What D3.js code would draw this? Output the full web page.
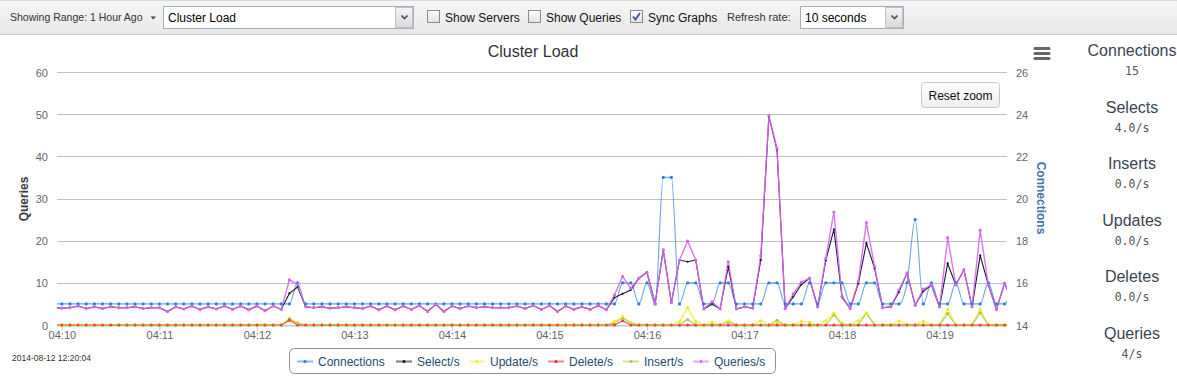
<!DOCTYPE html>
<html>
<head>
<meta charset="utf-8">
<script src="https://cdn.jsdelivr.net/npm/d3@7"></script>
<style>
  body { margin: 0; background: #fff; }
  svg { display: block; font-family: "Liberation Sans", Arial, Helvetica, sans-serif; }
</style>
</head>
<body>
<svg id="chart" width="1177" height="377"></svg>
<script>
// samples every 5 seconds, first one at 04:09:55
const startTime = Date.UTC(2014, 7, 12, 4, 9, 55)
const stepMs = 5000

const connections = [
  15, 15, 15, 15, 15, 15, 15, 15, 15, 15,
  15, 15, 15, 15, 15, 15, 15, 15, 15, 15,
  15, 15, 15, 15, 15, 15, 15, 15, 15, 15,
  16, 15, 15, 15, 15, 15, 15, 15, 15, 15,
  15, 15, 15, 15, 15, 15, 15, 15, 15, 15,
  15, 15, 15, 15, 15, 15, 15, 15, 15, 15,
  15, 15, 15, 15, 15, 15, 15, 15, 15, 15,
  16, 16, 15, 16, 15, 21, 21, 15, 16, 16,
  15, 15, 16, 16, 15, 15, 15, 15, 16, 16,
  15, 15, 15, 16, 15, 16, 16, 16, 15, 15,
  16, 16, 15, 15, 15, 16, 19, 15, 16, 15,
  15, 16, 15, 15, 15, 16, 15, 15, 16
]

const selects = [
  4.1, 4.0, 4.1, 4.5, 3.9, 4.3, 3.9, 4.3, 4.1, 4.1,
  4.3, 3.9, 4.1, 4.1, 3.2, 4.3, 3.8, 4.5, 3.7, 4.3,
  3.8, 4.5, 3.7, 4.5, 3.6, 4.5, 3.4, 4.5, 3.7, 7.5,
  9.0, 4.3, 4.1, 4.3, 4.0, 4.1, 4.3, 4.1, 3.9, 4.5,
  3.6, 4.5, 3.6, 4.5, 3.7, 4.6, 3.2, 4.9, 3.2, 4.5,
  3.9, 4.5, 4.1, 4.3, 4.1, 4.1, 4.1, 4.5, 3.9, 4.6,
  3.7, 4.6, 3.2, 4.5, 3.7, 4.3, 3.7, 4.6, 3.6, 6.5,
  7.4, 8.3, 11.1, 12.5, 5.1, 17.8, 5.3, 15.4, 15.0, 15.4,
  3.8, 5.0, 3.8, 13.8, 3.8, 4.3, 4.0, 15.4, 49.4, 41.6,
  3.9, 6.7, 9.6, 11.1, 4.3, 15.3, 22.7, 6.6, 3.9, 9.8,
  19.4, 13.5, 4.1, 4.3, 7.8, 12.3, 4.7, 8.0, 9.5, 4.3,
  14.6, 9.5, 13.1, 4.3, 16.5, 9.5, 3.7, 9.9, 5.5
]

const updates = [
  0, 0, 0, 0, 0, 0, 0, 0, 0, 0,
  0, 0, 0, 0, 0, 0, 0, 0, 0, 0,
  0, 0, 0, 0, 0, 0, 0, 0, 0, 1.0,
  0.3, 0, 0, 0, 0, 0, 0, 0, 0, 0,
  0, 0, 0, 0, 0, 0, 0, 0, 0, 0,
  0, 0, 0, 0, 0, 0, 0, 0, 0, 0,
  0, 0, 0, 0, 0, 0, 0, 0, 0, 0.8,
  2.0, 0.4, 0, 0, 0, 0, 0, 0.8, 4.1, 0.8,
  0, 0.6, 0, 1.0, 0, 0, 0, 1.0, 0, 0.6,
  0, 0, 0.9, 0.6, 0, 1.0, 2.8, 0.4, 0, 1.0,
  2.8, 0, 0, 0, 1.0, 0, 0, 0.9, 0, 0,
  3.8, 0, 0, 0, 3.8, 0, 0, 0, 0
]

const deletes = [
  0, 0, 0, 0, 0, 0, 0, 0, 0, 0,
  0, 0, 0, 0, 0, 0, 0, 0, 0, 0,
  0, 0, 0, 0, 0, 0, 0, 0, 0, 1.1,
  0, 0, 0, 0, 0, 0, 0, 0, 0, 0,
  0, 0, 0, 0, 0, 0, 0, 0, 0, 0,
  0, 0, 0, 0, 0, 0, 0, 0, 0, 0,
  0, 0, 0, 0, 0, 0, 0, 0, 0, 0,
  1.0, 0, 0, 0, 0, 0, 0, 0, 0, 0,
  0, 0, 0, 0, 0, 0, 0, 0, 0, 0,
  0, 0, 0, 0, 0, 0, 0, 0, 0, 0,
  0, 0, 0, 0, 0, 0, 0, 0, 0, 0,
  0, 0, 0, 0, 0, 0, 0, 0, 0
]

const inserts = [
  0, 0, 0, 0, 0, 0, 0, 0, 0, 0,
  0, 0, 0, 0, 0, 0, 0, 0, 0, 0,
  0, 0, 0, 0, 0, 0, 0, 0, 0, 1.5,
  0.5, 0, 0, 0, 0, 0, 0, 0, 0, 0,
  0, 0, 0, 0, 0, 0, 0, 0, 0, 0,
  0, 0, 0, 0, 0, 0, 0, 0, 0, 0,
  0, 0, 0, 0, 0, 0, 0, 0, 0, 0.5,
  1.7, 0.5, 0, 0, 0, 0, 0, 0, 1.3, 0,
  0, 0, 0, 0.7, 0, 0, 0, 0, 0, 1.1,
  0, 0, 0, 0, 0, 0, 2.4, 0, 0, 0,
  2.8, 0, 0, 0, 0, 0, 0, 0, 0, 0,
  2.7, 0, 0, 0, 2.9, 0, 0, 0, 0
]

const queries = [
  4.1, 4.0, 4.1, 4.5, 3.9, 4.3, 3.9, 4.3, 4.1, 4.1,
  4.3, 3.9, 4.1, 4.1, 3.2, 4.3, 3.8, 4.5, 3.7, 4.3,
  3.8, 4.5, 3.7, 4.5, 3.6, 4.5, 3.4, 4.5, 3.7, 10.7,
  9.6, 4.3, 4.1, 4.3, 4.0, 4.1, 4.3, 4.1, 3.9, 4.5,
  3.6, 4.5, 3.6, 4.5, 3.7, 4.6, 3.2, 4.9, 3.2, 4.5,
  3.9, 4.5, 4.1, 4.3, 4.1, 4.1, 4.1, 4.5, 3.9, 4.6,
  3.7, 4.6, 3.2, 4.5, 3.7, 4.3, 3.7, 4.6, 3.6, 7.1,
  11.5, 8.7, 11.1, 12.5, 5.1, 17.8, 5.3, 15.4, 19.9, 15.4,
  3.8, 5.5, 3.8, 15.0, 3.8, 4.3, 4.0, 16.4, 49.6, 41.9,
  3.9, 7.4, 10.2, 11.1, 4.3, 15.8, 26.8, 6.8, 3.9, 10.3,
  24.3, 13.9, 4.1, 4.3, 8.3, 12.3, 4.7, 8.5, 9.5, 4.3,
  20.7, 9.5, 13.1, 4.3, 22.5, 9.5, 3.7, 9.9, 5.5
]

const seriesNames = ['Connections', 'Select/s', 'Update/s', 'Delete/s', 'Insert/s', 'Queries/s']
const seriesColors = ['#2f7ed8', '#1a1438', '#ecec20', '#f02a2a', '#a8c440', '#d468ec']

const queryTicks = [0, 10, 20, 30, 40, 50, 60]
const connTicks = [14, 16, 18, 20, 22, 24, 26]

const statLabels = ['Connections', 'Selects', 'Inserts', 'Updates', 'Deletes', 'Queries']
const statValues = ['15', '4.0/s', '0.0/s', '0.0/s', '0.0/s', '4/s']

const stamp = '2014-08-12 12:20:04'

const margin = { left: 57, right: 1007, top: 72, bottom: 325 }

const svg = d3.select('#chart')
const defs = svg.append('defs')

function vGrad(id, top, bottom) {
  const g = defs.append('linearGradient').attr('id', id).attr('x1', 0).attr('y1', 0).attr('x2', 0).attr('y2', 1)
  g.append('stop').attr('offset', '0%').attr('stop-color', top)
  g.append('stop').attr('offset', '100%').attr('stop-color', bottom)
}
vGrad('barGrad', '#f6f6f6', '#e8e8e8')
vGrad('btnGrad', '#f4f4f4', '#d9d9d9')
vGrad('boxGrad', '#fdfdfd', '#e2e2e2')
vGrad('resetGrad', '#ffffff', '#efefef')

// ---------- toolbar ----------
const bar = svg.append('g').attr('class', 'toolbar')
bar.append('rect').attr('width', 1177).attr('height', 34).attr('fill', 'url(#barGrad)')
bar.append('line').attr('x1', 0).attr('x2', 1177).attr('y1', 0.5).attr('y2', 0.5).attr('stroke', '#dadada')
bar.append('line').attr('x1', 0).attr('x2', 1177).attr('y1', 34.5).attr('y2', 34.5).attr('stroke', '#cbcbcb')

bar.append('text').attr('x', 10).attr('y', 21).attr('font-size', 10.5).attr('fill', '#333').text('Showing Range: 1 Hour Ago')
bar.append('path').attr('d', 'M150.5,16.5 L156,16.5 L153.25,19.5 Z').attr('fill', '#444')

function selectBox(x, w, label) {
  const g = bar.append('g')
  g.append('rect').attr('x', x + 0.5).attr('y', 6.5).attr('width', w).attr('height', 22)
    .attr('fill', '#fff').attr('stroke', '#a7afb9')
  g.append('rect').attr('x', x + w - 17.5).attr('y', 7.5).attr('width', 17).attr('height', 20)
    .attr('fill', 'url(#btnGrad)').attr('stroke', '#bcc3cb')
  const cx = x + w - 8.5
  g.append('path').attr('d', `M${cx - 3},15.5 l3,3 l3,-3`).attr('fill', 'none').attr('stroke', '#4a4a4a').attr('stroke-width', 1.6)
  g.append('text').attr('x', x + 5).attr('y', 22).attr('font-size', 12).attr('fill', '#000').text(label)
}
selectBox(163, 250, 'Cluster Load')
selectBox(800, 103, '10 seconds')

function checkBox(x, label, checked) {
  const g = bar.append('g')
  g.append('rect').attr('x', x + 0.5).attr('y', 10.5).attr('width', 12).attr('height', 12)
    .attr('fill', 'url(#boxGrad)').attr('stroke', '#8a8a8a')
  if (checked) {
    g.append('path').attr('d', `M${x + 3},16.5 l2.5,3 l4.5,-6.5`).attr('fill', 'none')
      .attr('stroke', '#3c5196').attr('stroke-width', 1.8)
  }
  g.append('text').attr('x', x + 18).attr('y', 22).attr('font-size', 12).attr('fill', '#111').text(label)
}
checkBox(427, 'Show Servers', false)
checkBox(528, 'Show Queries', false)
checkBox(630, 'Sync Graphs', true)

bar.append('text').attr('x', 727).attr('y', 21).attr('font-size', 11).attr('fill', '#333').text('Refresh rate:')

// ---------- scales ----------
const times = queries.map((d, i) => new Date(startTime + i * stepMs))

const x = d3.scaleUtc()
  .domain([new Date(Date.UTC(2014, 7, 12, 4, 9, 57)), new Date(Date.UTC(2014, 7, 12, 4, 19, 41, 500))])
  .range([margin.left, margin.right])

const yQ = d3.scaleLinear().domain([0, 60]).range([margin.bottom, margin.top])
const yC = d3.scaleLinear().domain([14, 26]).range([margin.bottom, margin.top])

// ---------- title, grid, axes ----------
svg.append('text').attr('x', 533).attr('y', 57).attr('text-anchor', 'middle')
  .attr('font-size', 16).attr('fill', '#333').text('Cluster Load')

svg.append('g').attr('class', 'grid')
  .selectAll('line').data(queryTicks).join('line')
  .attr('x1', margin.left).attr('x2', margin.right)
  .attr('y1', (d) => Math.round(yQ(d)) + 0.5).attr('y2', (d) => Math.round(yQ(d)) + 0.5)
  .attr('stroke', '#c0c0c0')

const leftAxis = svg.append('g').attr('transform', `translate(${margin.left},0.5)`)
  .call(d3.axisLeft(yQ).tickValues(queryTicks).tickSize(0).tickPadding(9))
leftAxis.select('.domain').remove()
leftAxis.selectAll('text').attr('font-size', 11).attr('fill', '#666').attr('font-family', null)

const rightAxis = svg.append('g').attr('transform', `translate(${margin.right},0.5)`)
  .call(d3.axisRight(yC).tickValues(connTicks).tickSize(0).tickPadding(9))
rightAxis.select('.domain').remove()
rightAxis.selectAll('text').attr('font-size', 11).attr('fill', '#666').attr('font-family', null)

const bottomAxis = svg.append('g').attr('transform', `translate(0,${margin.bottom + 0.5})`)
  .call(d3.axisBottom(x).ticks(d3.utcMinute.every(1)).tickFormat(d3.utcFormat('%H:%M')).tickSize(5).tickPadding(1).tickSizeOuter(0))
bottomAxis.select('.domain').attr('stroke', '#c0d0e0')
bottomAxis.selectAll('.tick line').attr('stroke', '#c0d0e0')
bottomAxis.selectAll('text').attr('font-size', 11).attr('fill', '#666').attr('font-family', null)

svg.append('text').attr('transform', 'translate(28,199) rotate(-90)').attr('text-anchor', 'middle')
  .attr('font-size', 12).attr('font-weight', 'bold').attr('fill', '#3a3a3a').text('Queries')
svg.append('text').attr('transform', 'translate(1037,198) rotate(90)').attr('text-anchor', 'middle')
  .attr('font-size', 12).attr('font-weight', 'bold').attr('fill', '#4572a7').text('Connections')

// ---------- series ----------
defs.append('clipPath').attr('id', 'plotClip').append('rect')
  .attr('x', margin.left).attr('y', 40).attr('width', margin.right - margin.left).attr('height', 292)

const plot = svg.append('g').attr('clip-path', 'url(#plotClip)')

const seriesData = [connections, selects, updates, deletes, inserts, queries]
const yFor = (k) => (k === 0 ? yC : yQ)

const lineLayer = plot.append('g')
const dotLayer = plot.append('g')

seriesData.forEach((values, k) => {
  const line = d3.line()
    .x((d, i) => x(times[i]))
    .y((d) => yFor(k)(d))
    .curve(k === 0 ? d3.curveMonotoneX : d3.curveLinear)

  lineLayer.append('path').datum(values)
    .attr('d', line)
    .attr('fill', 'none')
    .attr('stroke', seriesColors[k])
    .attr('stroke-opacity', k === 0 ? 0.7 : (k === 1 ? 1 : 0.9))
    .attr('stroke-width', k === 5 ? 1.4 : 1.1)
})

// markers: deletes drawn over the other zero-line series
const markerOrder = [0, 1, 4, 2, 3, 5]
markerOrder.forEach((k) => {
  dotLayer.append('g').selectAll('circle').data(seriesData[k]).join('circle')
    .attr('cx', (d, i) => x(times[i]))
    .attr('cy', (d) => yFor(k)(d))
    .attr('r', k === 1 ? 1.1 : 1.6)
    .attr('fill', seriesColors[k])
    .attr('fill-opacity', k === 3 ? 0.8 : 1)
})

// ---------- reset zoom + menu ----------
const reset = svg.append('g')
reset.append('rect').attr('x', 921.5).attr('y', 82.5).attr('width', 78).attr('height', 25).attr('rx', 3)
  .attr('fill', 'url(#resetGrad)').attr('stroke', '#c8c8c8')
reset.append('text').attr('x', 960.5).attr('y', 99.5).attr('text-anchor', 'middle')
  .attr('font-size', 12).attr('fill', '#111').text('Reset zoom')

svg.append('g').selectAll('line').data([48.5, 53.5, 58.5]).join('line')
  .attr('x1', 1035).attr('x2', 1049).attr('y1', (d) => d).attr('y2', (d) => d)
  .attr('stroke', '#666').attr('stroke-width', 3).attr('stroke-linecap', 'round')

// ---------- legend ----------
const legendX = [297, 396, 469, 548, 623, 693]
const legend = svg.append('g')
legend.append('rect').attr('x', 289.5).attr('y', 348.5).attr('width', 486).attr('height', 25).attr('rx', 5)
  .attr('fill', '#fff').attr('stroke', '#909090')

const items = legend.selectAll('g.item').data(seriesNames).join('g').attr('class', 'item')
  .attr('transform', (d, i) => `translate(${legendX[i]},361)`)
items.append('line').attr('x1', 0).attr('x2', 16).attr('y1', 0.5).attr('y2', 0.5)
  .attr('stroke', (d, i) => seriesColors[i]).attr('stroke-width', 2).attr('stroke-opacity', 0.55)
items.append('circle').attr('cx', 8).attr('cy', 0.5).attr('r', 1.5).attr('fill', (d, i) => seriesColors[i])
items.append('text').attr('x', 21).attr('y', 5).attr('font-size', 12).attr('fill', '#274b6d').text((d) => d)

svg.append('text').attr('x', 12).attr('y', 361).attr('font-size', 8.5).attr('fill', '#333').text(stamp)

// ---------- stats panel ----------
const stats = svg.append('g').selectAll('g').data(statLabels).join('g')
  .attr('transform', (d, i) => `translate(1132,${56 + i * 56.5})`)
stats.append('text').attr('text-anchor', 'middle').attr('font-size', 16).attr('fill', '#3b4452').text((d) => d)
stats.append('text').attr('y', 19).attr('text-anchor', 'middle')
  .attr('font-family', '"DejaVu Sans Mono", monospace').attr('font-size', 11.5).attr('fill', '#555')
  .text((d, i) => statValues[i])
</script>
</body>
</html>
